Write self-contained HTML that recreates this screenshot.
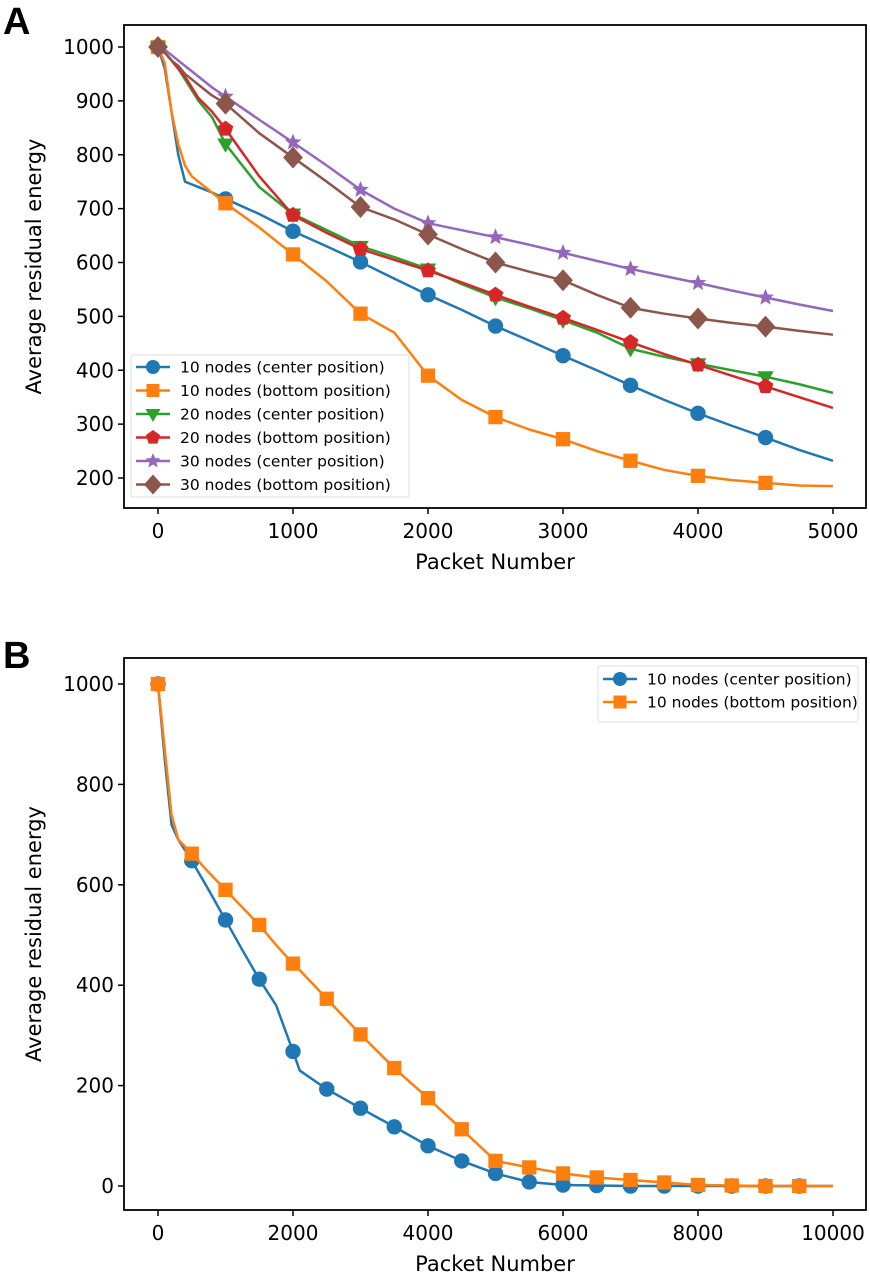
<!DOCTYPE html>
<html><head><meta charset="utf-8"><style>
html,body{margin:0;padding:0;background:#fff;}
svg{display:block;font-family:"DejaVu Sans","Liberation Sans",sans-serif;}
</style></head><body>
<svg id="fig" width="870" height="1274" viewBox="0 0 870 1274"></svg>
<script>
// ---- Panel A data ----
const xA = [0,50,100,150,200,250,300,400,500,750,1000,1250,1500,1750,2000,2250,2500,2750,3000,3250,3500,3750,4000,4250,4500,4750,5000];
const a10c = [1000,960,880,800,750,745,740,730,718,690,658,630,601,570,540,512,482,455,427,400,372,345,320,297,275,252,232];
const a10b = [1000,970,880,820,780,760,750,730,710,665,615,565,505,470,390,345,313,290,272,250,232,215,204,196,191,186,185];
const a20c = [1000,990,975,960,940,920,900,870,820,740,690,660,630,610,588,560,535,515,493,470,440,425,412,400,388,374,358];
const a20b = [1000,990,975,960,945,925,905,880,848,760,688,655,625,605,585,563,540,518,497,475,452,430,410,390,370,350,330];
const a30c = [1000,995,985,975,965,955,945,925,908,865,823,780,735,700,673,660,647,633,618,603,588,575,562,548,535,522,510];
const a30b = [1000,990,975,965,950,940,930,910,895,840,795,750,703,680,652,625,600,583,567,540,516,505,496,488,481,473,466];
const labelsA = ["10 nodes (center position)","10 nodes (bottom position)","20 nodes (center position)","20 nodes (bottom position)","30 nodes (center position)","30 nodes (bottom position)"];
const xTicksA = [0,1000,2000,3000,4000,5000];
const yTicksA = [200,300,400,500,600,700,800,900,1000];
// ---- Panel B data ----
const xB = [0,100,200,300,500,750,1000,1250,1500,1750,2000,2100,2500,3000,3500,4000,4500,5000,5500,6000,6500,7000,7500,8000,8500,9000,9500,10000];
const b10c = [1000,850,720,690,648,590,530,470,412,360,268,230,193,155,118,80,50,25,8,2,1,0,0,0,0,0,0,0];
const b10b = [1000,870,740,690,662,625,590,555,520,480,443,430,373,302,235,175,113,50,37,25,17,12,7,2,1,0,0,0];
const labelsB = ["10 nodes (center position)","10 nodes (bottom position)"];
const xTicksB = [0,2000,4000,6000,8000,10000];
const yTicksB = [0,200,400,600,800,1000];

const NS="http://www.w3.org/2000/svg";
const svg=document.getElementById('fig');
const colors=["#1f77b4","#ff7f0e","#2ca02c","#d62728","#9467bd","#8c564b"];
const markers=["circle","square","tridown","pentagon","star","diamond"];
function el(tag,attrs,parent){const e=document.createElementNS(NS,tag);for(const k in attrs)e.setAttribute(k,attrs[k]);(parent||svg).appendChild(e);return e;}
function markerShape(type,cx,cy,col,g,s){
  s=s||1;let e;
  if(type==="circle"){e=el('circle',{cx:cx,cy:cy,r:7*s,fill:col},g);}
  else if(type==="square"){e=el('rect',{x:cx-6.5*s,y:cy-6.5*s,width:13*s,height:13*s,fill:col},g);}
  else{let pts=[];
    if(type==="tridown"){pts=[[-7.5,-5],[7.5,-5],[0,8]];}
    else if(type==="diamond"){pts=[[0,-10],[9,0],[0,10],[-9,0]];}
    else if(type==="pentagon"){for(let i=0;i<5;i++){const a=-Math.PI/2+i*2*Math.PI/5;pts.push([7.5*Math.cos(a),7.5*Math.sin(a)]);}}
    else if(type==="star"){for(let i=0;i<10;i++){const a=-Math.PI/2+i*Math.PI/5;const r=i%2?3.5:8;pts.push([r*Math.cos(a),r*Math.sin(a)]);}}
    e=el('polygon',{points:pts.map(p=>(cx+p[0]*s)+','+(cy+p[1]*s)).join(' '),fill:col},g);}
  return e;
}
function panel(cfg){
  const {L,R,T,B,x0,x1px,xmax,y0px,y1px,ymin,ymax,xs,series,labels,xt,yt,tag,tagY,leg}=cfg;
  const X=v=>x0+(v/xmax)*(x1px-x0);
  const Y=v=>y0px+(v-ymin)/(ymax-ymin)*(y1px-y0px);
  const g=el('g',{});
  
  
  const t=el('text',{x:3,y:tagY,'font-size':38,'font-weight':'bold','font-family':'"Liberation Sans",sans-serif'},g);t.textContent=tag;
  
  series.forEach((ys,i)=>{
    const sg=el('g',{},g);
    
    
    el('polyline',{points:xs.map((x,j)=>X(x)+','+Y(ys[j])).join(' '),fill:'none',stroke:colors[i],'stroke-width':2.5,'stroke-linejoin':'round'},sg);
    xs.forEach((x,j)=>{if(x%500===0 && x<xmax){const m=markerShape(markers[i],X(x),Y(ys[j]),colors[i],sg,1.1);
      }});
  });
  el('rect',{x:L,y:T,width:R-L,height:B-T,fill:'none',stroke:'#000','stroke-width':1.8},g);
  xt.forEach(v=>{el('line',{x1:X(v),x2:X(v),y1:B,y2:B+6,stroke:'#000','stroke-width':1.5},g);
    const tx=el('text',{x:X(v),y:B+30,'font-size':20,'text-anchor':'middle'},g);tx.textContent=v;
    });
  yt.forEach(v=>{el('line',{x1:L,x2:L-6,y1:Y(v),y2:Y(v),stroke:'#000','stroke-width':1.5},g);
    const tx=el('text',{x:L-10,y:Y(v)+7,'font-size':20,'text-anchor':'end'},g);tx.textContent=v;
    });
  const xl=el('text',{x:(L+R)/2,y:B+61,'font-size':21,'text-anchor':'middle'},g);xl.textContent='Packet Number';
  
  const yl=el('text',{x:0,y:0,'font-size':21,'text-anchor':'middle',transform:'translate(41,'+((T+B)/2)+') rotate(-90)'},g);yl.textContent='Average residual energy';
  
  const lg=el('g',{},g);
  
  el('rect',{x:leg.x,y:leg.y,width:leg.w,height:leg.h,fill:'#fff','fill-opacity':0.85,stroke:'#ddd','stroke-width':1,rx:2},lg);
  labels.forEach((lab,i)=>{
    const cy=leg.y+leg.first+i*leg.step;
    const eg=el('g',{},lg);
    
    el('line',{x1:leg.x+5,x2:leg.x+39,y1:cy,y2:cy,stroke:colors[i],'stroke-width':2.5},eg);
    markerShape(markers[i],leg.x+22,cy,colors[i],eg,1.0);
    const tx=el('text',{x:leg.x+49,y:cy+5.5,'font-size':15.5},eg);tx.textContent=lab;
  });
}
panel({name:'panel-a',L:124,R:866,T:25,B:508,x0:158,x1px:833,xmax:5000,y0px:478,y1px:47,ymin:200,ymax:1000,
  xs:xA,series:[a10c,a10b,a20c,a20b,a30c,a30b],labels:labelsA,xt:xTicksA,yt:yTicksA,tag:'A',tagY:34,
  leg:{x:131,y:355,w:278,h:142,first:12,step:23.5}});
panel({name:'panel-b',L:124,R:866,T:658,B:1210,x0:158,x1px:833,xmax:10000,y0px:1186,y1px:684,ymin:0,ymax:1000,
  xs:xB,series:[b10c,b10b],labels:labelsB,xt:xTicksB,yt:yTicksB,tag:'B',tagY:668,
  leg:{x:598,y:666,w:260,h:56,first:13,step:23}});
</script>
</body></html>
